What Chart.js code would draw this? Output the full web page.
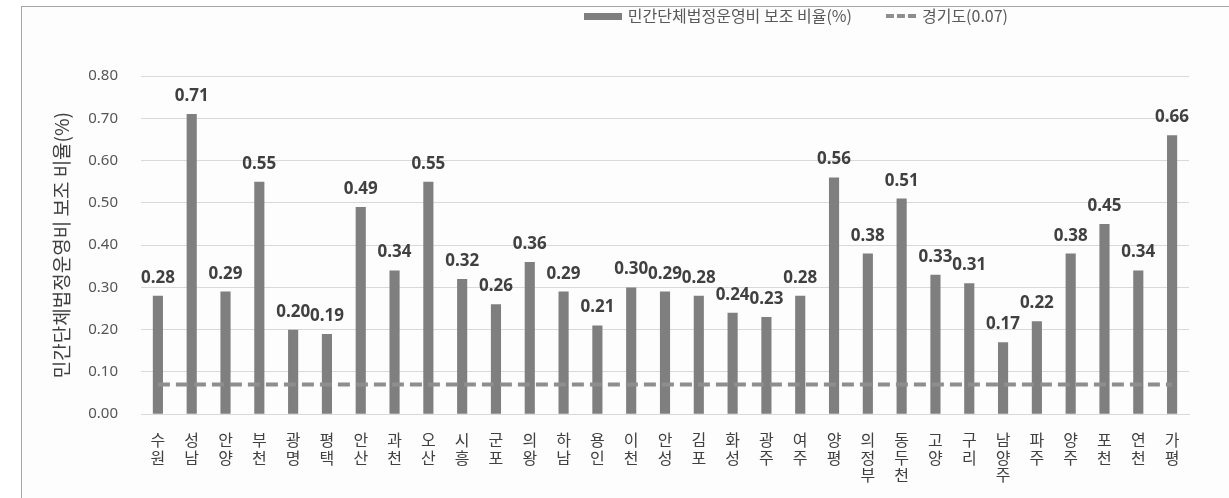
<!DOCTYPE html>
<html>
<head>
<meta charset="utf-8">
<script src="https://cdn.jsdelivr.net/npm/chart.js@4.4.1/dist/chart.umd.min.js"></script>
<style>
html,body{margin:0;padding:0;background:#fff;}
#frame{position:absolute;left:21px;top:6px;width:1208px;height:492px;border-left:1px solid #a6a6a6;border-top:1px solid #a6a6a6;background:#fdfdfd;}
#chart{position:absolute;left:0;top:0;}
</style>
</head>
<body>
<div id="frame"></div>
<canvas id="chart" width="1229" height="498"></canvas>
<script>
// cities of Gyeonggi-do and their ratio (%)
const cities = ['수원','성남','안양','부천','광명','평택','안산','과천','오산','시흥','군포','의왕','하남','용인','이천','안성',
  '김포','화성','광주','여주','양평','의정부','동두천','고양','구리','남양주','파주','양주','포천','연천','가평'];
const ratios = [0.28,0.71,0.29,0.55,0.20,0.19,0.49,0.34,0.55,0.32,0.26,0.36,0.29,0.21,0.30,0.29,
  0.28,0.24,0.23,0.28,0.56,0.38,0.51,0.33,0.31,0.17,0.22,0.38,0.45,0.34,0.66];
const provinceAvg = 0.07;
const barLabel = '민간단체법정운영비 보조 비율(%)';
const lineLabel = '경기도(0.07)';
const yTitle = '민간단체법정운영비 보조 비율(%)';
const yMin = 0, yMax = 0.8, yStep = 0.1;

const barColor = '#7f7f7f';
const lineColor = '#8e8e8e';

// legend swatches
const barSwatch = document.createElement('canvas');
barSwatch.width = 38; barSwatch.height = 7;
let sctx = barSwatch.getContext('2d');
sctx.fillStyle = barColor;
sctx.fillRect(0, 0, 38, 7);

const lineSwatch = document.createElement('canvas');
lineSwatch.width = 38; lineSwatch.height = 4;
sctx = lineSwatch.getContext('2d');
sctx.fillStyle = lineColor;
[8, 19, 30].forEach(x => sctx.fillRect(x, 0, 8, 4));

// values written above bars
const barValueLabels = {
  id: 'barValueLabels',
  afterDatasetsDraw(chart) {
    const ctx = chart.ctx;
    const meta = chart.getDatasetMeta(0);
    ctx.save();
    ctx.font = 'bold 17px "Noto Sans"';
    ctx.fillStyle = '#404040';
    ctx.textAlign = 'center';
    ctx.textBaseline = 'alphabetic';
    meta.data.forEach((bar, i) => {
      ctx.fillText(ratios[i].toFixed(2), bar.x, bar.y - 13);
    });
    ctx.restore();
  }
};

// more room under the legend, legend pulled up and off the right edge
const legendGap = {
  id: 'legendGap',
  beforeInit(chart) {
    const fit = chart.legend.fit;
    chart.legend.fit = function () {
      fit.call(this);
      this.height += 22;
    };
  },
  afterLayout(chart) {
    chart.legend.top -= 20;
    chart.legend.right = 1036;
  }
};

const chart = new Chart(document.getElementById('chart'), {
  type: 'bar',
  data: {
    labels: cities.map(c => c.split('')),
    datasets: [{
      label: barLabel,
      data: ratios,
      backgroundColor: barColor,
      barPercentage: 0.3,
      categoryPercentage: 1,
      order: 1
    }, {
      type: 'line',
      label: lineLabel,
      data: cities.map(() => provinceAvg),
      borderColor: lineColor,
      borderWidth: 4,
      borderDash: [12, 6],
      pointRadius: 0,
      fill: false,
      order: 0
    }]
  },
  options: {
    responsive: false,
    animation: false,
    layout: { padding: { left: 46, right: 40, top: 0, bottom: 5 } },
    plugins: {
      tooltip: { enabled: false },
      legend: {
        position: 'top',
        align: 'end',
        labels: {
          usePointStyle: true,
          pointStyleWidth: 34,
          padding: 28,
          color: '#595959',
          font: { family: '"Noto Sans CJK KR"', size: 16 },
          generateLabels: (chart) => chart.data.datasets.map((ds, i) => ({
            text: ds.label,
            datasetIndex: i,
            pointStyle: i === 0 ? barSwatch : lineSwatch,
            fillStyle: 'transparent',
            strokeStyle: 'transparent',
            lineWidth: 0,
            fontColor: '#595959',
            hidden: false
          }))
        }
      }
    },
    scales: {
      x: {
        grid: { display: false },
        border: { display: true, color: '#d9d9d9' },
        ticks: {
          color: '#404040',
          padding: 9,
          maxRotation: 0,
          autoSkip: false,
          font: { family: '"Noto Sans CJK KR"', size: 16, lineHeight: 1.1 }
        }
      },
      y: {
        min: yMin,
        max: yMax,
        afterFit(scale) { scale.width = 95; },
        grid: { color: '#d9d9d9', drawTicks: false },
        border: { display: false },
        ticks: {
          stepSize: yStep,
          padding: 23,
          color: '#555555',
          font: { family: '"Noto Sans"', size: 15 },
          callback: v => v.toFixed(2)
        },
        title: {
          display: true,
          text: yTitle,
          color: '#404040',
          font: { family: '"Noto Sans CJK KR"', size: 19 }
        }
      }
    }
  },
  plugins: [barValueLabels, legendGap]
});
</script>
</body>
</html>
